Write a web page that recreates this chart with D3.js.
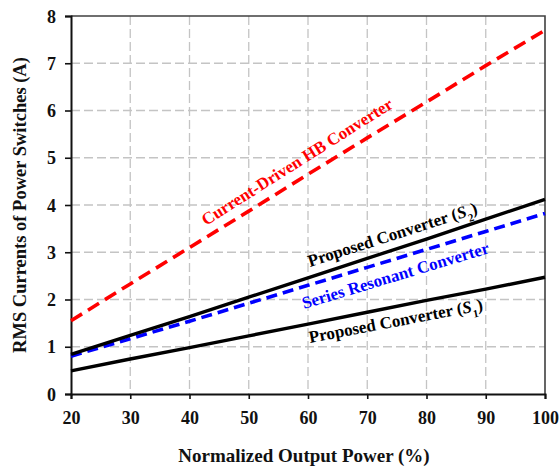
<!DOCTYPE html>
<html>
<head>
<meta charset="utf-8">
<script src="https://cdn.jsdelivr.net/npm/d3@7"></script>
<style>
  html, body { margin: 0; padding: 0; background: #fff; }
  svg text { font-family: "Liberation Serif", "Times New Roman", serif; font-weight: bold; }
</style>
</head>
<body>
<svg id="chart" width="560" height="468"></svg>
<script>
// Normalized output power (%)
const power = [20, 30, 40, 50, 60, 70, 80, 90, 100];
// RMS switch currents (A)
const currentDrivenHB = [1.55, 2.33, 3.10, 3.87, 4.65, 5.42, 6.18, 6.95, 7.70];
const proposedS2      = [0.84, 1.24, 1.64, 2.05, 2.46, 2.87, 3.28, 3.70, 4.12];
const seriesResonant  = [0.80, 1.17, 1.54, 1.92, 2.30, 2.68, 3.06, 3.44, 3.82];
const proposedS1      = [0.49, 0.74, 0.98, 1.23, 1.48, 1.73, 1.98, 2.22, 2.47];

const xTicks = [20, 30, 40, 50, 60, 70, 80, 90, 100];
const yTicks = [0, 1, 2, 3, 4, 5, 6, 7, 8];

const svg = d3.select("#chart");
const m = { left: 71, top: 16, right: 545, bottom: 394 };

const x = d3.scaleLinear().domain([20, 100]).range([m.left, m.right]);
const y = d3.scaleLinear().domain([0, 8]).range([m.bottom, m.top]);

// dashed grid
const grid = svg.append("g");
grid.selectAll("line.v").data(xTicks.slice(1, -1)).join("line")
  .attr("x1", d => x(d)).attr("x2", d => x(d))
  .attr("y1", m.top).attr("y2", m.bottom)
  .attr("stroke", "#c4c4c4").attr("stroke-width", 1.3).attr("stroke-dasharray", "9,4");
grid.selectAll("line.h").data(yTicks.slice(1, -1)).join("line")
  .attr("x1", m.left).attr("x2", m.right)
  .attr("y1", d => y(d)).attr("y2", d => y(d))
  .attr("stroke", "#c4c4c4").attr("stroke-width", 1.3).attr("stroke-dasharray", "9,4");

// top and right frame
svg.append("path")
  .attr("d", `M${m.left},${m.top}H${m.right}V${m.bottom}`)
  .attr("fill", "none").attr("stroke", "#404040").attr("stroke-width", 1.6);

// axes
const xAxis = svg.append("g").attr("transform", `translate(0,${m.bottom})`)
  .call(d3.axisBottom(x).tickValues(xTicks).tickSize(5).tickPadding(10).tickFormat(d3.format("d")));
const yAxis = svg.append("g").attr("transform", `translate(${m.left},0)`)
  .call(d3.axisLeft(y).tickValues(yTicks).tickSize(6).tickPadding(9).tickFormat(d3.format("d")));
[xAxis, yAxis].forEach(a => {
  a.attr("font-family", null);
  a.select(".domain").attr("stroke", "#111").attr("stroke-width", 2);
  a.selectAll(".tick line").attr("stroke", "#111").attr("stroke-width", 1.6);
  a.selectAll(".tick text").attr("fill", "#111").style("font-size", "18px");
});
xAxis.selectAll(".tick text").attr("dy", "0.85em");
yAxis.selectAll(".tick text").attr("dy", "0.34em");

// series
const line = d3.line().x((d, i) => x(power[i])).y(d => y(d));
const series = [
  { data: proposedS1,      color: "#000",    width: 3.4, dash: null },
  { data: seriesResonant,  color: "#0000ff", width: 3.6, dash: "11,6" },
  { data: proposedS2,      color: "#000",    width: 3.4, dash: null },
  { data: currentDrivenHB, color: "#ff0000", width: 3.6, dash: "13,7" }
];
svg.append("g").selectAll("path").data(series).join("path")
  .attr("d", d => line(d.data))
  .attr("fill", "none")
  .attr("stroke", d => d.color)
  .attr("stroke-width", d => d.width)
  .attr("stroke-dasharray", d => d.dash);

// line labels
function label(px, py, angle, color, parts) {
  const t = svg.append("text")
    .attr("transform", `translate(${px},${py}) rotate(${angle})`)
    .attr("fill", color).style("font-size", "17px");
  parts.forEach(p => {
    const s = t.append("tspan").text(p.text);
    if (p.italic) s.style("font-style", "italic");
    if (p.sub) s.attr("baseline-shift", "sub").style("font-size", "11px");
  });
}
label(206, 226, -32.3, "#ff0000", [{ text: "Current-Driven HB Converter" }]);
label(310, 267, -17.8, "#000", [
  { text: "Proposed Converter (" }, { text: "S", italic: true }, { text: "2", sub: true }, { text: ")" }
]);
label(304, 309, -16.8, "#0000ff", [{ text: "Series Resonant Converter" }]);
label(310, 343, -10.8, "#000", [
  { text: "Proposed Converter (" }, { text: "S", italic: true }, { text: "1", sub: true }, { text: ")" }
]);

// axis titles
svg.append("text")
  .attr("x", 304).attr("y", 462)
  .attr("text-anchor", "middle").attr("fill", "#111").style("font-size", "19px")
  .text("Normalized Output Power (%)");
svg.append("text")
  .attr("transform", `translate(26,205) rotate(-90)`)
  .attr("text-anchor", "middle").attr("fill", "#111").style("font-size", "18.5px")
  .text("RMS Currents of Power Switches (A)");
</script>
</body>
</html>
